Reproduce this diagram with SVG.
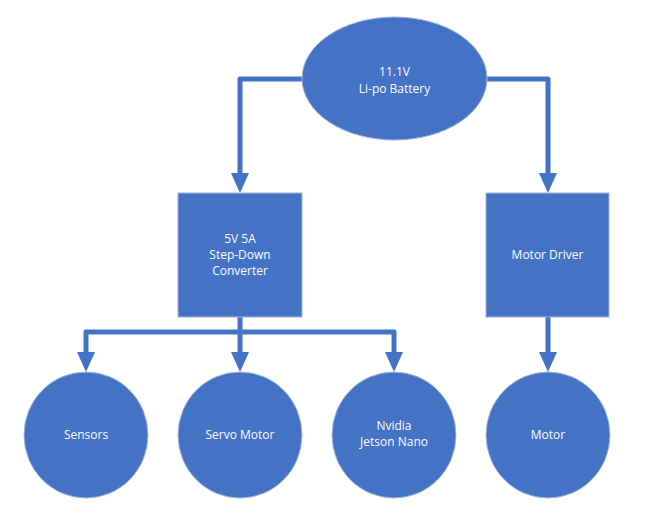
<svg xmlns="http://www.w3.org/2000/svg" width="656" height="532" viewBox="0 0 656 532">
<style>
.node{fill:#4472C4;stroke:#9fb4dc;stroke-width:1}
.lbl{fill:#ffffff;font-family:"Open Sans","Liberation Sans",sans-serif;font-size:12px;text-anchor:middle}
.conn{fill:none;stroke:#4472C4;stroke-width:5;stroke-linejoin:round}
</style>
<defs>
<marker id="arr" viewBox="0 0 20 18" refX="2" refY="9" markerWidth="20" markerHeight="18" markerUnits="userSpaceOnUse" orient="auto">
<path d="M0,0 L20,9 L0,18 z" fill="#4472C4"/>
</marker>
</defs>
<rect width="656" height="532" fill="#ffffff"/>
<g id="connectors">
<path class="conn" d="M304,79 H240 V175" marker-end="url(#arr)"/>
<path class="conn" d="M485,79 H548 V175" marker-end="url(#arr)"/>
<path class="conn" d="M240,317 V354" marker-end="url(#arr)"/>
<path class="conn" d="M240,332 H86 V354" marker-end="url(#arr)"/>
<path class="conn" d="M240,332 H394 V354" marker-end="url(#arr)"/>
<path class="conn" d="M548,317 V354" marker-end="url(#arr)"/>
</g>
<g id="battery">
<ellipse class="node" cx="394.5" cy="78.5" rx="92.5" ry="61.5"/>
<text class="lbl" x="394.5" y="76">11.1V</text>
<text class="lbl" x="394.5" y="93">Li-po Battery</text>
</g>
<g id="converter">
<rect class="node" x="178" y="193" width="124" height="124"/>
<text class="lbl" x="240" y="243">5V 5A</text>
<text class="lbl" x="240" y="259">Step-Down</text>
<text class="lbl" x="240" y="275">Converter</text>
</g>
<g id="motordriver">
<rect class="node" x="486" y="193" width="123" height="124"/>
<text class="lbl" x="547.5" y="259">Motor Driver</text>
</g>
<g id="sensors">
<ellipse class="node" cx="86" cy="435" rx="62" ry="63"/>
<text class="lbl" x="86" y="439">Sensors</text>
</g>
<g id="servo">
<ellipse class="node" cx="240" cy="435" rx="62" ry="63"/>
<text class="lbl" x="240" y="439">Servo Motor</text>
</g>
<g id="jetson">
<ellipse class="node" cx="394" cy="435" rx="62" ry="63"/>
<text class="lbl" x="394" y="430">Nvidia</text>
<text class="lbl" x="394" y="446">Jetson Nano</text>
</g>
<g id="motor">
<ellipse class="node" cx="548" cy="435" rx="62" ry="63"/>
<text class="lbl" x="548" y="439">Motor</text>
</g>
</svg>
